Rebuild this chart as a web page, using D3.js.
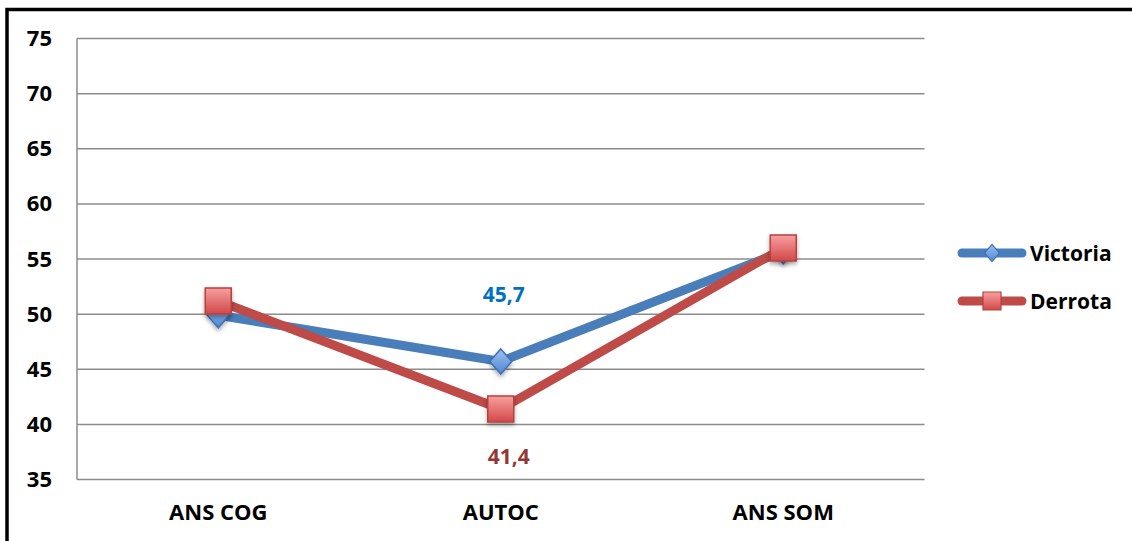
<!DOCTYPE html>
<html>
<head>
<meta charset="utf-8">
<script src="https://cdn.jsdelivr.net/npm/d3@7"></script>
<style>
  html, body { margin: 0; padding: 0; background: #fff; }
  svg { display: block; font-family: "Open Sans", sans-serif; font-weight: bold; }
</style>
</head>
<body>
<svg id="chart" width="1132" height="541"></svg>
<script>
const categories = ["ANS COG", "AUTOC", "ANS SOM"];
const seriesNames = ["Victoria", "Derrota"];
const victoria = [49.9, 45.7, 55.7];
const derrota = [51.2, 41.4, 56.0];
const yTicks = [35, 40, 45, 50, 55, 60, 65, 70, 75];
const dataLabels = [{series: "Victoria", index: 1, text: "45,7"}, {series: "Derrota", index: 1, text: "41,4"}];

const svg = d3.select("#chart");
const margin = {left: 77, right: 1132 - 924.5, top: 38.5, bottom: 541 - 479.5};
const W = 1132, H = 541;

const defs = svg.append("defs");
const gb = defs.append("linearGradient").attr("id", "gBlue").attr("x1", 0).attr("y1", 0).attr("x2", 0).attr("y2", 1);
gb.append("stop").attr("offset", "0%").attr("stop-color", "#9ec2f0");
gb.append("stop").attr("offset", "100%").attr("stop-color", "#4f86d0");
const gr = defs.append("linearGradient").attr("id", "gRed").attr("x1", 0).attr("y1", 0).attr("x2", 0).attr("y2", 1);
gr.append("stop").attr("offset", "0%").attr("stop-color", "#f7a0a0");
gr.append("stop").attr("offset", "100%").attr("stop-color", "#d24848");
const sh = defs.append("filter").attr("id", "shadow").attr("x", "-50%").attr("y", "-50%").attr("width", "200%").attr("height", "200%");
sh.append("feDropShadow").attr("dx", 0).attr("dy", 2.5).attr("stdDeviation", 2).attr("flood-color", "#000").attr("flood-opacity", 0.35);

// frame (cropped chart border)
svg.append("rect").attr("x", 7).attr("y", 9.5).attr("width", 1400).attr("height", 800)
  .attr("fill", "none").attr("stroke", "#000").attr("stroke-width", 3.5);

const x = d3.scaleBand().domain(categories).range([margin.left, W - margin.right]);
const y = d3.scaleLinear().domain([35, 75]).range([H - margin.bottom, margin.top]);

// gridlines
svg.append("g").selectAll("line").data(yTicks).join("line")
  .attr("x1", margin.left).attr("x2", W - margin.right)
  .attr("y1", d => y(d)).attr("y2", d => y(d))
  .attr("stroke", "#8c8c8c").attr("stroke-width", 1.5);
svg.append("line").attr("x1", margin.left).attr("x2", margin.left)
  .attr("y1", y(75)).attr("y2", y(35)).attr("stroke", "#8c8c8c").attr("stroke-width", 1.5);

// y axis labels
const yAxis = d3.axisLeft(y).tickValues(yTicks).tickSize(0).tickPadding(25);
const ya = svg.append("g").attr("transform", `translate(${margin.left},0)`).call(yAxis);
ya.select(".domain").remove();
ya.selectAll("text").attr("font-size", 22).attr("font-family", "Open Sans, sans-serif")
  .attr("font-weight", "bold").attr("fill", "#000");

// x axis labels
const xAxis = d3.axisBottom(x).tickSize(0).tickPadding(25);
const xa = svg.append("g").attr("transform", `translate(0,${y(35)})`).call(xAxis);
xa.select(".domain").remove();
xa.selectAll("text").attr("font-size", 22).attr("font-family", "Open Sans, sans-serif")
  .attr("font-weight", "bold").attr("fill", "#000");

const cx = d => x(d) + x.bandwidth() / 2;
const line = d3.line().x(d => cx(d.c)).y(d => y(d.v));

const series = [
  {name: "Victoria", values: victoria, color: "#4a7ebb", fill: "url(#gBlue)", stroke: "#3f72b5", marker: "diamond"},
  {name: "Derrota", values: derrota, color: "#be4b48", fill: "url(#gRed)", stroke: "#b8403d", marker: "square"}
];

const markerPath = (type, s) => type === "diamond"
  ? `M0,${-s * 0.57}L${s * 0.5},0L0,${s * 0.57}L${-s * 0.5},0Z`
  : `M${-s / 2},${-s / 2}H${s / 2}V${s / 2}H${-s / 2}Z`;

series.forEach(s => {
  const pts = categories.map((c, i) => ({c, v: s.values[i]}));
  svg.append("path").datum(pts).attr("d", line)
    .attr("fill", "none").attr("stroke", s.color).attr("stroke-width", 9)
    .attr("stroke-linejoin", "round").attr("stroke-linecap", "round");
  svg.append("g").selectAll("path").data(pts).join("path")
    .attr("transform", d => `translate(${cx(d.c)},${y(d.v)})`)
    .attr("d", markerPath(s.marker, s.marker === "diamond" ? 22 : 26))
    .attr("fill", s.fill).attr("stroke", s.stroke).attr("stroke-width", 1.5)
    .attr("filter", "url(#shadow)");
});

// data labels
const labelCfg = {Victoria: {color: "#0070c0", dy: -60, dx: 3}, Derrota: {color: "#953735", dy: 55, dx: 8}};
dataLabels.forEach(l => {
  const s = series.find(q => q.name === l.series);
  const cfg = labelCfg[l.series];
  svg.append("text").attr("x", cx(categories[l.index]) + cfg.dx).attr("y", y(s.values[l.index]) + cfg.dy)
    .attr("text-anchor", "middle").attr("font-size", 21).attr("fill", cfg.color).text(l.text);
});

// legend
const leg = svg.append("g");
series.forEach((s, i) => {
  const ly = 253 + i * 48;
  leg.append("line").attr("x1", 962).attr("x2", 1022).attr("y1", ly).attr("y2", ly)
    .attr("stroke", s.color).attr("stroke-width", 9).attr("stroke-linecap", "round");
  leg.append("path").attr("transform", `translate(992,${ly})`)
    .attr("d", markerPath(s.marker, s.marker === "diamond" ? 15 : 18))
    .attr("fill", s.fill).attr("stroke", s.stroke).attr("stroke-width", 1.2);
  leg.append("text").attr("x", 1030).attr("y", ly).attr("dy", "0.36em")
    .attr("font-size", 21).attr("fill", "#000").text(s.name);
});
</script>
</body>
</html>
